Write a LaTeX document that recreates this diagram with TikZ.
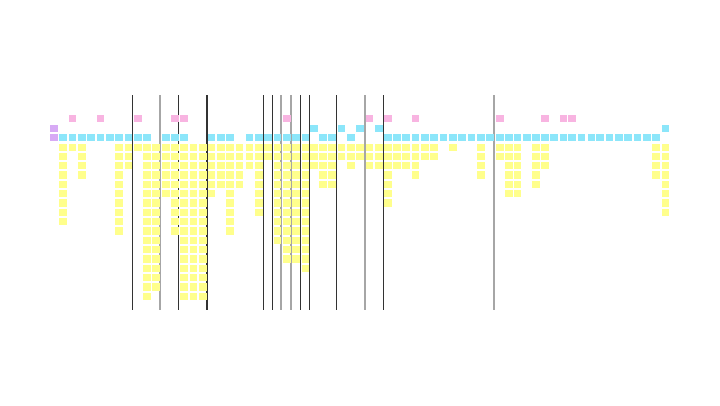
\documentclass[tikz,border=0pt]{standalone}
\usetikzlibrary{positioning}
\definecolor{stickyyellow}{RGB}{255,255,140}
\definecolor{stickyblue}{RGB}{140,230,250}
\definecolor{stickypink}{RGB}{248,180,225}
\definecolor{stickypurple}{RGB}{215,170,245}
\begin{document}
\begin{tikzpicture}[x=1pt, y=-1pt,
    note/.style={minimum width=7.8pt, minimum height=7.2pt, inner sep=0pt, anchor=north west},
    task/.style={note, fill=stickyyellow},
    activity/.style={note, fill=stickyblue},
    release/.style={note, fill=stickypink},
    persona/.style={note, fill=stickypurple},
    lane/.style={draw=black!80, line width=1.3pt},
    milestone/.style={draw=black!35, line width=2.2pt}
]
\useasboundingbox (0,0) rectangle (720,405);

% --- separators ---
\foreach \x in {132.3, 178.7, 207, 263.3, 272.7, 300.3, 309.5, 336.7, 383.3}
    \draw[lane] (\x,95) -- (\x,310);
\foreach \x in {160.3, 281.3, 291, 364.7, 494.3}
    \draw[milestone] (\x,95) -- (\x,310);

% --- personas ---
\node[persona] (p-top) at (50,125) {};
\node[persona] (p-main) at (50,134) {};

% --- releases ---
\foreach \x [count=\i] in {68.3, 96.3, 134, 170.7, 180, 282.7, 365.3, 384, 411.3, 496, 540.7, 559.3, 568}
    \node[release] (r\i) at (\x,115) {};

% --- activities ---
\foreach \x [count=\i] in {59, 68.3, 77.7, 87, 96.3, 105.7, 115, 124.3, 134, 142.7, 162, 170.7, 180,
    207.3, 216.7, 226, 245.3, 254.7, 264, 273.3, 282.7, 292, 301.3, 318.7, 328, 346.7,
    384, 392.7, 402, 411.3, 420.7, 430, 439.3, 448.7, 458, 467.3, 476.7, 486,
    496, 504.7, 513.3, 522.7, 532, 540.7, 550, 559.3, 568, 577.3, 587.3, 596, 605.3,
    614.7, 624, 633.3, 642.7, 652}
    \node[activity] (a\i) at (\x,134) {};
\foreach \x [count=\i] in {310, 337.3, 356, 374.7, 661.3}
    \node[activity] (b\i) at (\x,125) {};

% --- tasks ---
\foreach \x/\n [count=\c] in {59/9, 68.3/1, 77.7/4, 115/10, 124.3/3, 134/1, 142.7/17, 152/16,
    162/6, 170.7/10, 180/17, 189.3/17, 198.7/17, 207.3/6, 216.7/5, 226/10, 235.3/5,
    245.3/3, 254.7/8, 264/2, 273.3/11, 282.7/13, 292/13, 301.3/14, 310/3, 318.7/5,
    328/5, 337.3/2, 346.7/3, 356/2, 365.3/3, 374.7/3, 384/7, 392.7/3, 402/3, 411.3/4,
    420.7/2, 430/2, 448.7/1, 476.7/4, 496/2, 504.7/6, 513.3/6, 532/5, 540.7/3,
    652/4, 661.3/8}
    \foreach \r in {1,...,\n}
        \node[task] (t\c-\r) at (\x,{143.3+(\r-1)*9.33}) {};

\end{tikzpicture}
\end{document}
